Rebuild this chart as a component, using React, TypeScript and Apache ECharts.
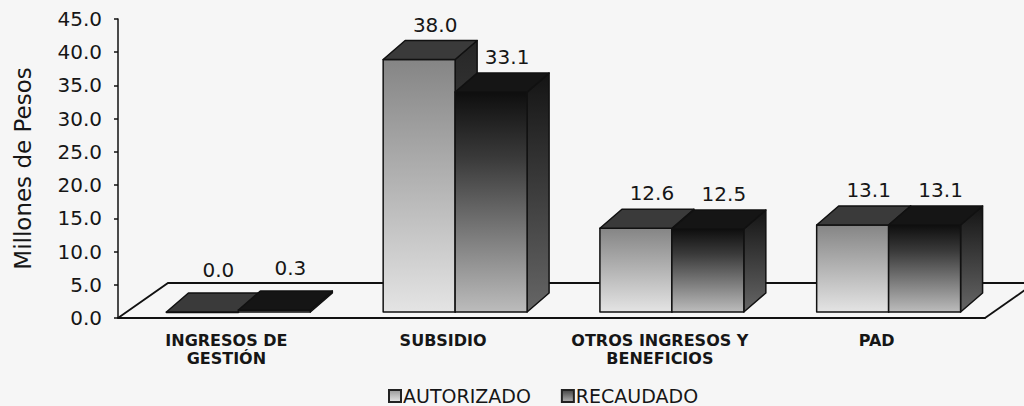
import React, { useEffect, useRef } from "react";
import * as echarts from "echarts";

const categories = ["INGRESOS DE\nGESTIÓN", "SUBSIDIO", "OTROS INGRESOS Y\nBENEFICIOS", "PAD"];
const seriesNames = ["AUTORIZADO", "RECAUDADO"];
const autorizado = [0.0, 38.0, 12.6, 13.1];
const recaudado = [0.3, 33.1, 12.5, 13.1];
const yMin = 0;
const yMax = 45;
const yStep = 5;

const FONT = "DejaVu Sans";
const INK = "#161616";

const grad = (stops: [number, string][]) =>
  new echarts.graphic.LinearGradient(0, 0, 0, 1, stops.map(([offset, color]) => ({ offset, color })));

const palettes = [
  {
    front: () => grad([[0, "#858585"], [0.5, "#b4b4b4"], [1, "#e4e4e4"]]),
    right: () => grad([[0, "#262626"], [1, "#5e5e5e"]]),
    top: "#3a3a3a",
    legend: () => grad([[0, "#9a9a9a"], [1, "#e6e6e6"]]),
  },
  {
    front: () => grad([[0, "#0e0e0e"], [0.3, "#3a3a3a"], [1, "#bcbcbc"]]),
    right: () => grad([[0, "#141414"], [1, "#666666"]]),
    top: "#151515",
    legend: () => grad([[0, "#444444"], [1, "#b0b0b0"]]),
  },
];

const DX = 22;
const DY = -19;
const SHIFT_X = 12;
const SHIFT_Y = -6;

function makeRender(sIdx: number) {
  return (params: any, api: any) => {
    const cat = api.value(0);
    const val = api.value(1);
    const top = api.coord([cat, val]);
    const base = api.coord([cat, 0]);
    const band = api.size([1, 0])[0];
    const bw = band * 0.332;
    const x0 = base[0] + SHIFT_X + (sIdx === 0 ? -bw : 0);
    const x1 = x0 + bw;
    const yb = base[1] + SHIFT_Y;
    const yt = top[1] + SHIFT_Y;
    const pal = palettes[sIdx];
    const stroke = { stroke: "#111", lineWidth: 1.5, lineJoin: "round" };
    return {
      type: "group",
      children: [
        {
          type: "polygon",
          shape: { points: [[x1, yb], [x1, yt], [x1 + DX, yt + DY], [x1 + DX, yb + DY]] },
          style: { fill: pal.right(), ...stroke },
        },
        {
          type: "rect",
          shape: { x: x0, y: yt, width: bw, height: Math.max(yb - yt, 0.5) },
          style: { fill: pal.front(), ...stroke },
        },
        {
          type: "polygon",
          shape: { points: [[x0, yt], [x1, yt], [x1 + DX, yt + DY], [x0 + DX, yt + DY]] },
          style: { fill: pal.top, ...stroke },
        },
        {
          type: "text",
          style: {
            text: Number(val).toFixed(1),
            x: (x0 + x1 + DX) / 2 + 5,
            y: yt + DY - (yb - yt < 5 ? 23 : 16),
            align: "center",
            verticalAlign: "middle",
            fontFamily: FONT,
            fontSize: 20,
            fill: INK,
          },
        },
      ],
    };
  };
}

export default function App() {
  const ref = useRef<HTMLDivElement>(null);
  useEffect(() => {
    if (!ref.current) return;
    const chart = echarts.init(ref.current, undefined, { renderer: "svg" });
    const values = [autorizado, recaudado];
    chart.setOption({
      animation: false,
      backgroundColor: "#f6f6f6",
      grid: { left: 118, right: 39, top: 19, bottom: 88 },
      legend: {
        left: 383,
        top: 381,
        itemWidth: 12,
        itemHeight: 12,
        itemGap: 30,
        icon: "rect",
        data: seriesNames,
        textStyle: { fontFamily: FONT, fontSize: 19, lineHeight: 20, color: INK, padding: [0, 0, 0, -3] },
      },
      xAxis: {
        type: "category",
        data: categories,
        axisLine: { lineStyle: { color: "#111", width: 2 } },
        axisTick: { length: 5, lineStyle: { color: "#111", width: 1.5 } },
        axisLabel: {
          fontFamily: FONT,
          fontWeight: "bold",
          fontSize: 16,
          lineHeight: 18,
          color: INK,
          margin: 13,
          interval: 0,
        },
      },
      yAxis: {
        type: "value",
        min: yMin,
        max: yMax,
        interval: yStep,
        name: "Millones de Pesos",
        nameLocation: "middle",
        nameGap: 84,
        nameTextStyle: { fontFamily: FONT, fontSize: 23, color: INK },
        axisLine: { show: true, lineStyle: { color: "#111", width: 1.5 } },
        axisTick: { show: true, length: 4, lineStyle: { color: "#111", width: 1.5 } },
        splitLine: { show: false },
        axisLabel: {
          fontFamily: FONT,
          fontSize: 20,
          color: INK,
          margin: 16,
          formatter: (v: number) => v.toFixed(1),
        },
      },
      graphic: [
        {
          type: "polyline",
          z: 1,
          shape: { points: [[118, 318], [168, 283], [1040, 283]] },
          style: { stroke: "#111", lineWidth: 1.8, fill: null },
        },
        {
          type: "line",
          z: 1,
          shape: { x1: 985, y1: 318, x2: 1035, y2: 283 },
          style: { stroke: "#111", lineWidth: 1.8 },
        },
      ],
      series: seriesNames.map((name, s) => ({
        name,
        type: "custom",
        z: 3 + s,
        clip: false,
        itemStyle: { color: palettes[s].legend(), borderColor: "#222", borderWidth: 1.5 },
        renderItem: makeRender(s),
        encode: { x: 0, y: 1 },
        data: values[s].map((v, i) => [i, v]),
      })),
    });
    return () => chart.dispose();
  }, []);
  return (
    <div
      ref={ref}
      style={{ position: "fixed", left: 0, top: 0, width: 1024, height: 406 }}
    />
  );
}
